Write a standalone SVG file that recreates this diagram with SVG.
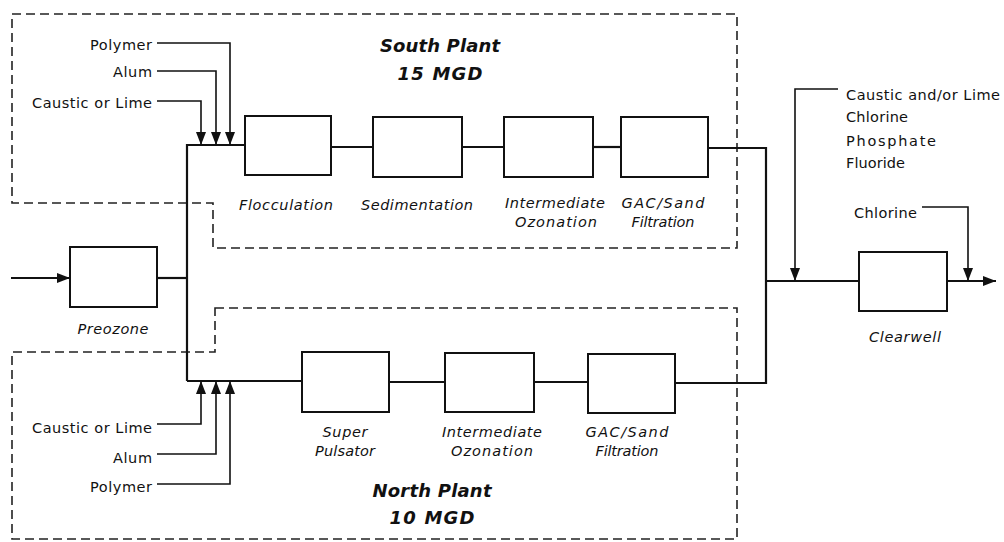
<svg xmlns="http://www.w3.org/2000/svg" width="1004" height="542" viewBox="0 0 1004 542">
<style>
.bg{fill:#fff}
.box{fill:#fff;stroke:#111;stroke-width:2}
.flow{fill:none;stroke:#111;stroke-width:2.2}
.feed{fill:none;stroke:#111;stroke-width:1.6}
.dash{fill:none;stroke:#222;stroke-width:1.6;stroke-dasharray:9 5}
text{font-family:"DejaVu Sans","Liberation Sans",sans-serif;fill:#111}
.lbl{font-size:14.5px}
.proc{font-size:14.5px;font-style:italic;text-anchor:middle}
.title{font-size:18px;font-style:italic;font-weight:bold;text-anchor:middle}
.r{text-anchor:end}
</style>
<defs>
<marker id="arr" markerUnits="userSpaceOnUse" markerWidth="13" markerHeight="10" refX="13" refY="5" orient="auto">
<path d="M0,0 L13,5 L0,10 Z" fill="#111"/>
</marker>
</defs>
<rect class="bg" x="0" y="0" width="1004" height="542"/>
<g id="boundaries">
<path class="dash" d="M12 14 H737 V248 H213 V203 H12 Z"/>
<path class="dash" d="M215 308 H737 V539 H12 V352 H215 Z"/>
</g>
<g id="connectors">
<path class="flow" d="M11 278 H70" marker-end="url(#arr)"/>
<path class="flow" d="M157 278 H187"/>
<path class="flow" d="M187 381 V145 H245"/>
<path class="flow" d="M331 147 H373"/>
<path class="flow" d="M462 147 H504"/>
<path class="flow" d="M593 147 H621"/>
<path class="flow" d="M708 148 H766 V383 H675"/>
<path class="flow" d="M187 381 H302"/>
<path class="flow" d="M389 382 H445"/>
<path class="flow" d="M534 382 H588"/>
<path class="flow" d="M766 281 H859"/>
<path class="flow" d="M947 281 H996" marker-end="url(#arr)"/>
<path class="feed" d="M157 43 H230 V145" marker-end="url(#arr)"/>
<path class="feed" d="M157 71 H216 V145" marker-end="url(#arr)"/>
<path class="feed" d="M157 101 H201 V145" marker-end="url(#arr)"/>
<path class="feed" d="M157 424 H201 V381" marker-end="url(#arr)"/>
<path class="feed" d="M157 454 H216 V381" marker-end="url(#arr)"/>
<path class="feed" d="M157 484 H230 V381" marker-end="url(#arr)"/>
<path class="feed" d="M838 89 H795 V281" marker-end="url(#arr)"/>
<path class="feed" d="M922 207 H968 V281" marker-end="url(#arr)"/>
</g>
<g id="south-title">
<text class="title" x="440" y="52" textLength="120">South Plant</text>
<text class="title" x="440" y="80" textLength="85">15 MGD</text>
</g>
<g id="south-feeds">
<text class="lbl r" x="152" y="50" textLength="62">Polymer</text>
<text class="lbl r" x="152" y="77" textLength="39">Alum</text>
<text class="lbl r" x="152" y="108" textLength="120">Caustic or Lime</text>
</g>
<g id="preozone">
<rect class="box" x="70" y="247" width="87" height="60"/>
<text class="proc" x="113" y="334" textLength="71">Preozone</text>
</g>
<g id="flocculation">
<rect class="box" x="245" y="116" width="86" height="59"/>
<text class="proc" x="286" y="210" textLength="94">Flocculation</text>
</g>
<g id="sedimentation">
<rect class="box" x="373" y="117" width="89" height="60"/>
<text class="proc" x="417" y="210" textLength="112">Sedimentation</text>
</g>
<g id="south-ozonation">
<rect class="box" x="504" y="117" width="89" height="60"/>
<text class="proc" x="555" y="208" textLength="100">Intermediate</text>
<text class="proc" x="556" y="227" textLength="82">Ozonation</text>
</g>
<g id="south-gac">
<rect class="box" x="621" y="117" width="87" height="60"/>
<text class="proc" x="663" y="208" textLength="83">GAC/Sand</text>
<text class="proc" x="663" y="227" textLength="63">Filtration</text>
</g>
<g id="super-pulsator">
<rect class="box" x="302" y="352" width="87" height="60"/>
<text class="proc" x="345" y="437" textLength="45">Super</text>
<text class="proc" x="345" y="456" textLength="60">Pulsator</text>
</g>
<g id="north-ozonation">
<rect class="box" x="445" y="353" width="89" height="59"/>
<text class="proc" x="492" y="437" textLength="100">Intermediate</text>
<text class="proc" x="492" y="456" textLength="82">Ozonation</text>
</g>
<g id="north-gac">
<rect class="box" x="588" y="354" width="87" height="59"/>
<text class="proc" x="627" y="437" textLength="83">GAC/Sand</text>
<text class="proc" x="627" y="456" textLength="63">Filtration</text>
</g>
<g id="north-feeds">
<text class="lbl r" x="152" y="433" textLength="120">Caustic or Lime</text>
<text class="lbl r" x="152" y="463" textLength="39">Alum</text>
<text class="lbl r" x="152" y="492" textLength="62">Polymer</text>
</g>
<g id="north-title">
<text class="title" x="432" y="497" textLength="119">North Plant</text>
<text class="title" x="432" y="524" textLength="85">10 MGD</text>
</g>
<g id="post-feeds">
<text class="lbl" x="846" y="100" textLength="154">Caustic and/or Lime</text>
<text class="lbl" x="846" y="122" textLength="62">Chlorine</text>
<text class="lbl" x="846" y="146" textLength="90">Phosphate</text>
<text class="lbl" x="846" y="168" textLength="59">Fluoride</text>
<text class="lbl" x="854" y="218" textLength="63">Chlorine</text>
</g>
<g id="clearwell">
<rect class="box" x="859" y="252" width="88" height="59"/>
<text class="proc" x="905" y="342" textLength="72">Clearwell</text>
</g>
</svg>
